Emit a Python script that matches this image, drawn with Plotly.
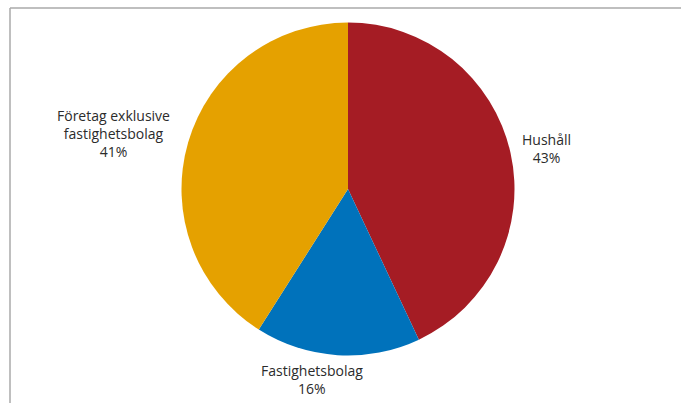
import plotly.graph_objects as go

# Slice data, clockwise from 12 o'clock
categories = ["Hushåll", "Fastighetsbolag", "Företag exklusive fastighetsbolag"]
shares = [43, 16, 41]
label_lines = ["Hushåll", "Fastighetsbolag", "Företag exklusive<br>fastighetsbolag"]
colors = ["#A51C24", "#0072BB", "#E5A100"]

W, H = 681, 403
CX, CY, R = 348, 189, 166.5

fig = go.Figure(
    go.Pie(
        labels=categories,
        values=shares,
        sort=False,
        direction="clockwise",
        rotation=0,
        marker=dict(colors=colors, line=dict(width=0)),
        textinfo="none",
        hoverinfo="label+percent",
        showlegend=False,
        domain=dict(x=[(CX - R) / W, (CX + R) / W],
                    y=[1 - (CY + R) / H, 1 - (CY - R) / H]),
    )
)

# Label positions (pixel centres of each text block)
label_pos = [(546, 148), (312, 379), (113, 133)]
for text, pct, (px, py) in zip(label_lines, shares, label_pos):
    fig.add_annotation(
        x=px / W, y=1 - py / H, xref="paper", yref="paper",
        text=f"{text}<br>{pct}%", showarrow=False,
        xanchor="center", yanchor="middle", align="center",
        font=dict(family="Open Sans, Noto Sans, sans-serif", size=14, color="#2b2b2b"),
    )

# Frame lines along the top and left
frame = dict(color="#AAAAAA", width=1.5)
fig.add_shape(type="line", xref="paper", yref="paper",
              x0=10 / W, x1=1, y0=1 - 8 / H, y1=1 - 8 / H, line=frame)
fig.add_shape(type="line", xref="paper", yref="paper",
              x0=10 / W, x1=10 / W, y0=1 - 8 / H, y1=0, line=frame)

fig.update_layout(
    width=W, height=H,
    margin=dict(l=0, r=0, t=0, b=0),
    paper_bgcolor="white", plot_bgcolor="white",
)

fig.write_html("out.html")
